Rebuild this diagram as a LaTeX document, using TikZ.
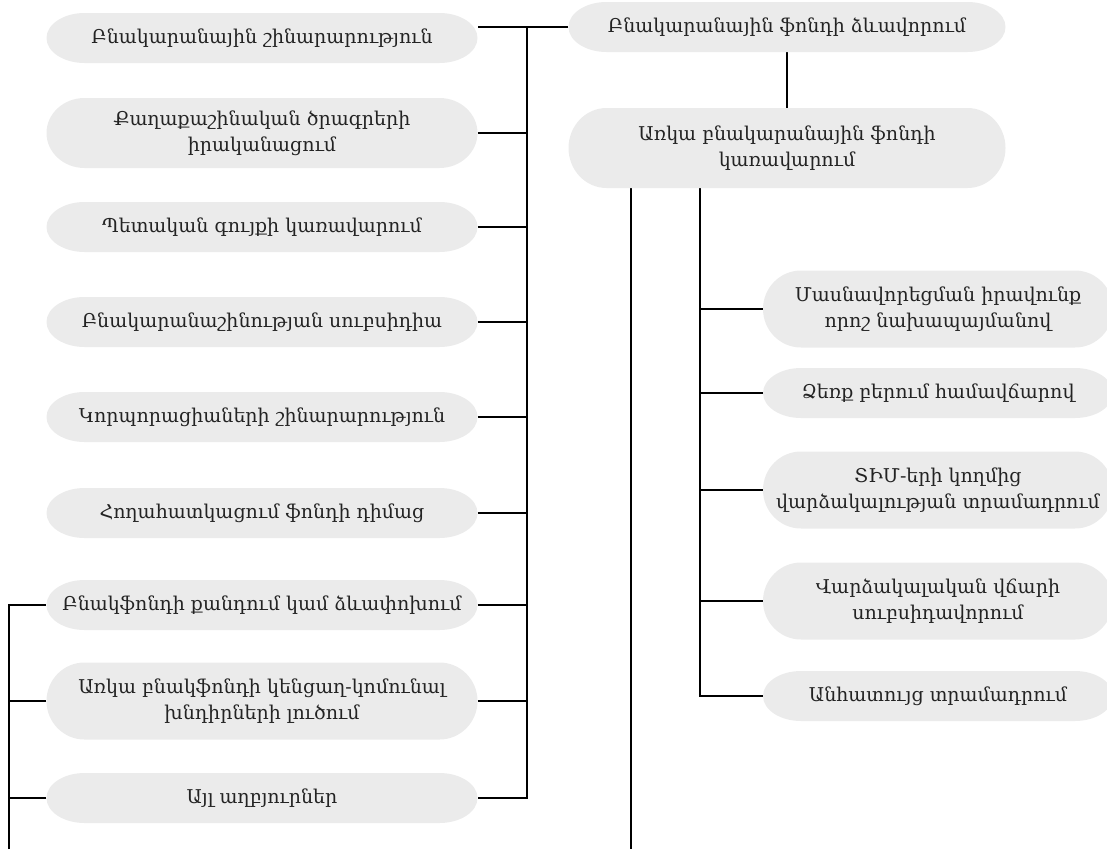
\documentclass[tikz,border=0pt]{standalone}
\usepackage{fontspec}
\setmainfont{DejaVu Serif}
\usetikzlibrary{calc,backgrounds}
\definecolor{boxgray}{RGB}{235,235,235}
\definecolor{txtgray}{RGB}{35,35,35}
\tikzset{
  pill/.style={minimum height=50pt, inner sep=0pt, text=txtgray, align=center,
    font=\fontsize{19}{26}\selectfont,
    path picture={\fill[boxgray]
      let \p1=(path picture bounding box.north), \p2=(path picture bounding box.south),
          \n1={abs(\y1-\y2)/2} in
      ([xshift=38pt]path picture bounding box.north west)
      -- ([xshift=-38pt]path picture bounding box.north east)
      arc[start angle=90, end angle=-90, x radius=38pt, y radius=\n1]
      -- ([xshift=38pt]path picture bounding box.south west)
      arc[start angle=270, end angle=90, x radius=38pt, y radius=\n1] -- cycle;}},%椭圆两端
  pilltwo/.style={pill, minimum height=77pt},
  leftbox/.style={minimum width=431pt},
  rightbox/.style={minimum width=437pt},
  subbox/.style={minimum width=350pt},
  conn/.style={line width=1.9pt, black}
}
\begin{document}
\begin{tikzpicture}[x=1pt,y=-1pt]
    \useasboundingbox (0,0) rectangle (1107,849);%固定画面大小
    % 左列
    \node[pill,leftbox] (l1) at (262,38) {Բնակարանային շինարարություն};
    \node[pilltwo,leftbox,minimum height=70pt] (l2) at (262,133) {Քաղաքաշինական ծրագրերի\\իրականացում};
    \node[pill,leftbox] (l3) at (262,227) {Պետական գույքի կառավարում};
    \node[pill,leftbox] (l4) at (262,322) {Բնակարանաշինության սուբսիդիա};
    \node[pill,leftbox] (l5) at (262,417) {Կորպորացիաների շինարարություն};
    \node[pill,leftbox] (l6) at (262,513) {Հողահատկացում ֆոնդի դիմաց};
    \node[pill,leftbox] (l7) at (262,605) {Բնակֆոնդի քանդում կամ ձևափոխում};
    \node[pilltwo,leftbox] (l8) at (262,701) {Առկա բնակֆոնդի կենցաղ-կոմունալ\\խնդիրների լուծում};
    \node[pill,leftbox] (l9) at (262,798) {Այլ աղբյուրներ};
    % 右列
    \node[pill,rightbox] (top) at (787,27) {Բնակարանային ֆոնդի ձևավորում};
    \node[pilltwo,rightbox,minimum height=80pt] (mgmt) at (787,148) {Առկա բնակարանային ֆոնդի\\կառավարում};
    \node[pilltwo,subbox] (s1) at (938,309) {Մասնավորեցման իրավունք\\որոշ նախապայմանով};
    \node[pill,subbox] (s2) at (938,393) {Ձեռք բերում համավճարով};
    \node[pilltwo,subbox] (s3) at (938,490) {ՏԻՄ-երի կողմից\\վարձակալության տրամադրում};
    \node[pilltwo,subbox] (s4) at (938,601) {Վարձակալական վճարի\\սուբսիդավորում};
    \node[pill,subbox] (s5) at (938,696) {Անհատույց տրամադրում};
    % 连接线,放在背景层
    \begin{scope}[on background layer]
    \coordinate (bt) at (527,27);%右侧总线顶端
    \coordinate (lb) at (9,849);%左侧总线底端
    \coordinate (ma) at (631,849);
    \coordinate (mb) at (700,849);
    \draw[conn] (top.west) -- (l1.east |- top.west);
    \draw[conn] (bt) -- (bt |- l9) -- (l9.east);
    \foreach \n in {2,...,8}
        \draw[conn] (l\n.east) -- (bt |- l\n);
    \draw[conn] (lb) -- (lb |- l7) -- (l7.west);
    \draw[conn] (l8.west) -- (lb |- l8);
    \draw[conn] (l9.west) -- (lb |- l9);
    \draw[conn] (top) -- (mgmt);
    \draw[conn] (ma |- mgmt.south) -- (ma);
    \draw[conn] (mb |- mgmt.south) -- (mb |- s5) -- (s5.west);
    \foreach \n in {1,...,4}
        \draw[conn] (s\n.west) -- (mb |- s\n);
    \end{scope}
\end{tikzpicture}
\end{document}
